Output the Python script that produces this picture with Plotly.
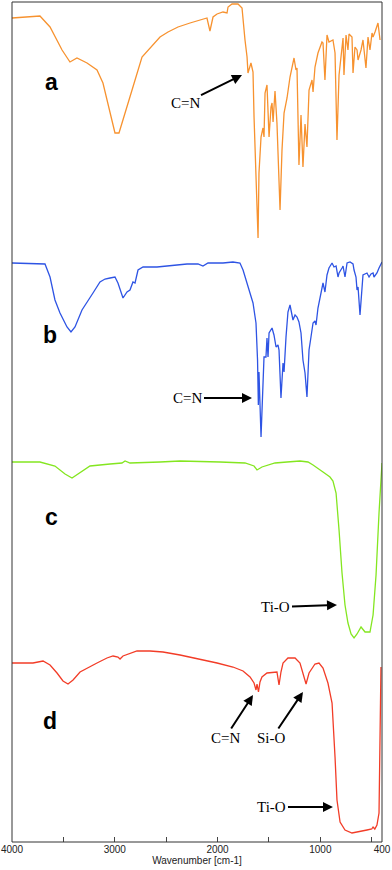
import plotly.graph_objects as go

# ---------------- data (wavenumber cm-1, relative transmittance a.u.) ----------------
wn_a = [4000, 3874, 3728, 3630, 3513, 3436, 3368, 3270, 3173, 3115, 3066, 3027, 2998, 2959, 2910,
        2832, 2735, 2677, 2609, 2560, 2482, 2385, 2268, 2171, 2103, 2074, 2044, 2005, 1947, 1908,
        1898, 1859, 1801, 1762, 1752, 1733, 1713, 1704, 1675, 1655, 1645, 1626, 1606, 1597, 1577,
        1558, 1548, 1538, 1519, 1499, 1480, 1470, 1460, 1441, 1422, 1392, 1373, 1353, 1324, 1295,
        1256, 1237, 1227, 1208, 1188, 1169, 1149, 1130, 1110, 1081, 1071, 1052, 1023, 984, 974,
        955, 935, 916, 877, 857, 838, 818, 789, 779, 770, 750, 731, 721, 692, 682, 663, 643, 633,
        604, 585, 556, 536, 517, 497, 487, 468, 449, 439, 419]
t_a = [232, 233, 234, 223, 200, 188, 192, 187, 180, 167, 147, 128, 117, 117, 133,
       160, 193, 200, 208, 213, 218, 223, 227, 230, 232, 219, 233, 236, 238, 237,
       243, 246, 246, 242, 230, 210, 193, 177, 187, 178, 133, 67, 12, 77, 113,
       122, 113, 157, 165, 113, 143, 147, 128, 159, 127, 40, 100, 137, 152, 173,
       192, 180, 182, 85, 135, 83, 126, 103, 160, 170, 158, 183, 197, 208, 207,
       170, 215, 208, 210, 197, 110, 175, 205, 212, 175, 215, 200, 216, 213, 177, 203, 200, 190,
       200, 210, 182, 213, 200, 217, 213, 218, 223, 227, 210]

wn_b = [4000, 3679, 3630, 3582, 3533, 3465, 3426, 3387, 3319, 3261, 3212, 3144, 3095, 3046, 2998,
        2969, 2920, 2881, 2852, 2823, 2803, 2774, 2725, 2589, 2433, 2297, 2190, 2142, 2093, 1947,
        1850, 1782, 1752, 1713, 1684, 1655, 1626, 1611, 1603, 1597, 1577, 1558, 1548, 1529, 1519,
        1509, 1499, 1470, 1451, 1431, 1412, 1402, 1383, 1363, 1353, 1334, 1315, 1295, 1276, 1266,
        1246, 1227, 1208, 1188, 1169, 1159, 1149, 1130, 1120, 1110, 1091, 1071, 1052, 1042, 1023,
        993, 974, 955, 935, 916, 886, 867, 847, 828, 818, 789, 779, 760, 740, 711, 682, 672, 653,
        643, 633, 614, 595, 585, 546, 526, 507, 487, 478, 449, 429, 400]
t_b = [187, 186, 173, 150, 137, 123, 118, 123, 140, 150, 157, 168, 171, 172, 173,
       167, 152, 158, 160, 168, 167, 180, 183, 183, 185, 186, 186, 184, 187, 187,
       188, 187, 180, 167, 158, 147, 127, 90, 45, 78, 13, 70, 93, 93, 112,
       93, 117, 122, 115, 103, 105, 100, 52, 87, 78, 113, 138, 145, 135, 130,
       135, 133, 128, 117, 90, 85, 77, 53, 73, 100, 113, 127, 129, 125, 142,
       157, 167, 158, 175, 182, 187, 183, 184, 173, 177, 182, 184, 173, 187, 188, 186, 180, 173,
       160, 163, 135, 167, 175, 177, 173, 176, 177, 173, 177, 182, 188]

wn_c = [4000, 3728, 3582, 3484, 3416, 3338, 3241, 3046, 2930, 2900, 2852, 2560, 2365, 1976, 1733,
        1645, 1616, 1568, 1441, 1324, 1198, 1120, 1071, 974, 906, 877, 847, 818, 789, 760,
        731, 701, 672, 643, 604, 565, 517, 487, 458, 429, 410, 400]
t_c = [188, 188, 184, 176, 172, 177, 184, 186, 187, 189, 187, 188, 189, 188, 187,
       184, 180, 183, 187, 188, 189, 188, 185, 178, 173, 169, 157, 120, 77, 45,
       27, 16, 12, 16, 23, 18, 18, 35, 75, 137, 170, 187]

wn_d = [4000, 3796, 3698, 3630, 3562, 3504, 3455, 3406, 3338, 3270, 3173, 3076, 3017, 2969, 2949,
        2920, 2871, 2784, 2657, 2531, 2365, 2171, 2005, 1850, 1752, 1684, 1645, 1626, 1616, 1602,
        1587, 1568, 1519, 1422, 1402, 1383, 1363, 1315, 1246, 1198, 1159, 1139, 1110, 1052, 1013,
        974, 926, 886, 857, 838, 808, 760, 692, 614, 546, 500, 487, 470, 449, 429, 419, 410]
t_d = [179, 179, 181, 177, 169, 161, 158, 162, 170, 174, 179, 184, 186, 185, 183,
       186, 188, 191, 191, 190, 187, 183, 179, 175, 171, 165, 159, 152, 158, 150,
       160, 165, 169, 170, 157, 170, 179, 184, 184, 179, 165, 158, 169, 178, 179,
       174, 159, 139, 85, 42, 20, 12, 9, 11, 12, 13, 15, 13, 17, 29, 102, 175]

panel_labels = ["a", "b", "c", "d"]
tick_vals = [4000, 3500, 3000, 2500, 2000, 1500, 1000, 500, 400]
tick_text = ["4000", "", "3000", "", "2000", "", "1000", "", "400"]

colors = ["#F7922F", "#2E54E4", "#84E620", "#F23C27"]

fig = go.Figure()
series = [(wn_a, t_a, "y"), (wn_b, t_b, "y2"), (wn_c, t_c, "y3"), (wn_d, t_d, "y4")]
for (wx, ty, ya), col in zip(series, colors):
    fig.add_trace(go.Scatter(x=wx, y=ty, mode="lines", yaxis=ya,
                             line=dict(color=col, width=1.3), showlegend=False,
                             hoverinfo="skip"))

H = 840.0
def dom(top_px, bot_px):
    return [(842 - bot_px) / H, (842 - top_px) / H]

ycommon = dict(visible=False, fixedrange=True, automargin=False)
fig.update_layout(
    width=392, height=870,
    margin=dict(l=12, r=10, t=2, b=28, autoexpand=False),
    paper_bgcolor="white", plot_bgcolor="white",
    xaxis=dict(range=[4000, 400], tickvals=tick_vals, ticktext=tick_text,
               ticks="inside", ticklen=5, tickcolor="#444", tickwidth=1,
               showgrid=False, zeroline=False, showline=False,
               anchor="free", position=0, automargin=False,
               tickfont=dict(family="Liberation Sans, Arial", size=10, color="#222"),
               title=dict(text="Wavenumber [cm-1]", standoff=1,
                          font=dict(family="Liberation Sans, Arial", size=10, color="#222"))),
    yaxis=dict(domain=dom(2, 250), range=[0, 248], **ycommon),
    yaxis2=dict(domain=dom(250, 450), range=[0, 200], **ycommon),
    yaxis3=dict(domain=dom(450, 650), range=[0, 200], **ycommon),
    yaxis4=dict(domain=dom(650, 842), range=[0, 192], **ycommon),
)

fig.add_shape(type="rect", xref="paper", yref="paper", x0=0, x1=1, y0=0, y1=1,
              line=dict(color="#333", width=1))

# panel letters
label_pos = [(3620, 168, "y"), (3630, 115, "y2"), (3620, 133, "y3"), (3630, 121, "y4")]
for lab, (lx, ly, ya) in zip(panel_labels, label_pos):
    fig.add_annotation(x=lx, y=ly, xref="x", yref=ya, text="<b>" + lab + "</b>",
                       showarrow=False,
                       font=dict(family="Liberation Sans, Arial", size=23, color="black"),
                       xanchor="center", yanchor="middle")

# arrow annotations
arrows = [
    ("C=N", 1762, 175, "y", -57, 28),
    ("C=N", 1665, 52, "y2", -64, 0),
    ("Ti-O", 838, 45, "y3", -61, 2),
    ("C=N", 1655, 147, "y4", -28, 43),
    ("Si-O", 1169, 150, "y4", -31, 46),
    ("Ti-O", 877, 35, "y4", -61, 0),
]
for txt, ax_w, ay_v, ya, dx, dy in arrows:
    fig.add_annotation(x=ax_w, y=ay_v, xref="x", yref=ya, text=txt,
                       showarrow=True, ax=dx, ay=dy, arrowhead=2, arrowsize=1,
                       arrowwidth=2, arrowcolor="black",
                       font=dict(family="Liberation Serif, Times New Roman", size=15,
                                 color="black"))

fig.write_html("out.html", config={"displayModeBar": False},
               post_script="document.body.style.margin='0px';document.body.style.overflow='hidden';")
